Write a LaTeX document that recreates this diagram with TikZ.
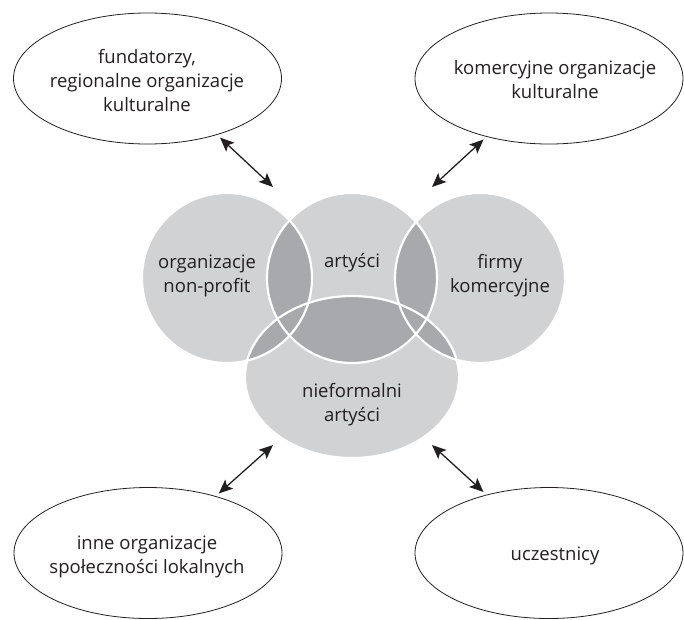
\documentclass[tikz,border=0pt]{standalone}
\usepackage{fontspec}
\setmainfont{Open Sans}
\usetikzlibrary{shapes.geometric,arrows.meta}
\definecolor{venn}{RGB}{209,210,212}
\definecolor{vennover}{RGB}{167,169,172}
\definecolor{ink}{RGB}{35,31,32}
\tikzset{
  outer/.style={draw=ink, ellipse, line width=0.8pt, minimum width=268pt, minimum height=131pt},
  lbl/.style={align=center, text=ink, font=\fontsize{18.5}{24}\selectfont},
  link/.style={draw=ink, line width=1.3pt, {Stealth[length=14pt,width=12pt,inset=3pt]}-{Stealth[length=14pt,width=12pt,inset=3pt]}, shorten <=4pt},
  rim/.style={draw=white, line width=2.2pt}
}
\begin{document}
\begin{tikzpicture}[x=1pt,y=-1pt]
\useasboundingbox (0,0) rectangle (684,619);

% srodek diagramu
\coordinate (corg) at (227,278);
\coordinate (cart) at (352,278);
\coordinate (cfirm) at (480,278);
\coordinate (cnief) at (352,377);

\fill[venn] (corg) circle[radius=85];
\fill[venn] (cart) circle[radius=85];
\fill[venn] (cfirm) circle[radius=85];
\fill[venn] (cnief) ellipse[x radius=107, y radius=81];

\begin{scope}
\clip (corg) circle[radius=85];
\fill[vennover] (cart) circle[radius=85];
\fill[vennover] (cnief) ellipse[x radius=107, y radius=81];
\end{scope}
\begin{scope}
\clip (cfirm) circle[radius=85];
\fill[vennover] (cart) circle[radius=85];
\fill[vennover] (cnief) ellipse[x radius=107, y radius=81];
\end{scope}
\begin{scope}
\clip (cart) circle[radius=85];
\fill[vennover] (cnief) ellipse[x radius=107, y radius=81];
\end{scope}

\path[rim] (corg) circle[radius=85];
\path[rim] (cart) circle[radius=85];
\path[rim] (cfirm) circle[radius=85];
\path[rim] (cnief) ellipse[x radius=107, y radius=81];

\node[lbl] (orgt) at (207,276) {organizacje\\non-profit};
\node[lbl] (artt) at (352,263) {artyści};
\node[lbl] (firmt) at (500,276) {firmy\\komercyjne};
\node[lbl] (nieft) at (352,405) {nieformalni\\artyści};

% otoczenie
\node[outer] (fund) at (147.5,78.5) {};
\node[outer] (komerc) at (549,78.5) {};
\node[outer] (inne) at (148,553) {};
\node[outer] (uczest) at (549,553) {};
\node[lbl] (fundt) at (147,81) {fundatorzy,\\regionalne organizacje\\kulturalne};
\node[lbl] (komerct) at (555,80) {komercyjne organizacje\\kulturalne};
\node[lbl] (innet) at (147,557) {inne organizacje\\społeczności lokalnych};
\node[lbl] (uczestt) at (555,556) {uczestnicy};

\coordinate (a1) at (273,187);
\coordinate (a2) at (432,187);
\coordinate (a3) at (273,445);
\coordinate (a4) at (432,445);

\path[link] (fund.-39) -- (a1);
\path[link] (komerc.-137) -- (a2);
\path[link] (inne.40) -- (a3);
\path[link] (uczest.137) -- (a4);
\end{tikzpicture}
\end{document}
